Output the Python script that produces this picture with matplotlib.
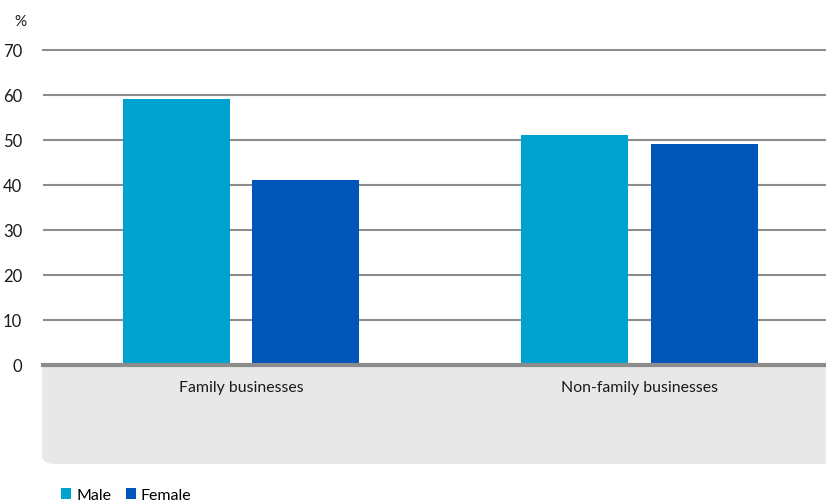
import matplotlib
matplotlib.use("Agg")
import matplotlib.pyplot as plt
from matplotlib.patches import FancyBboxPatch, Patch
import numpy as np

categories = ["Family businesses", "Non-family businesses"]
male = [59, 51]
female = [41, 49]
series_names = ["Male", "Female"]
yticks = [0, 10, 20, 30, 40, 50, 60, 70]

c_male = "#00a3cf"
c_female = "#0056b8"
grid_c = "#8c8c8c"

plt.rcParams['font.family'] = ['Lato', 'DejaVu Sans']

W, H = 826, 502
fig = plt.figure(figsize=(W / 100, H / 100), dpi=100)
ax = fig.add_axes([43 / W, 1 - 365.5 / H, (W - 43) / W, (365.5 - 51) / H])

x = np.arange(len(categories))
bw = 0.2685
off = 0.162
ax.bar(x - off, male, width=bw, color=c_male, zorder=3)
ax.bar(x + off, female, width=bw, color=c_female, zorder=3)

ax.set_xlim(-0.497, 1.468)
ax.set_ylim(0, 70)
ax.set_yticks(yticks)
ax.yaxis.grid(True, color=grid_c, linewidth=1.5, zorder=0)
ax.set_axisbelow(True)
for s in ["top", "right", "left"]:
    ax.spines[s].set_visible(False)
ax.spines["bottom"].set_color(grid_c)
ax.spines["bottom"].set_linewidth(3)
ax.spines["bottom"].set_zorder(4)
ax.tick_params(axis="y", length=0, pad=15, labelsize=12, labelcolor="#1a1a1a")
ax.tick_params(axis="x", length=0, pad=11, labelsize=11.4, labelcolor="#1a1a1a")
ax.set_xticks(x)
ax.set_xticklabels(categories)
for lbl in ax.get_yticklabels():
    lbl.set_clip_on(False)
ax.get_ygridlines()[-1].set_clip_on(False)

fig.text(20 / W, 1 - 22 / H, "%", fontsize=11, ha="center", va="center", color="#1a1a1a")

# grey category band
box = FancyBboxPatch((42 / W, 1 - 465 / H), (W + 40 - 42) / W, (465 - 362) / H,
                     boxstyle="round,pad=0,rounding_size=0.016",
                     transform=fig.transFigure, facecolor="#e8e8e8", edgecolor="none", zorder=-1)
fig.patches.append(box)

handles = [Patch(facecolor=c_male), Patch(facecolor=c_female)]
fig.legend(handles, series_names, loc="center left", bbox_to_anchor=(61 / W, 1 - 496 / H),
           ncol=2, frameon=False, fontsize=11.5, handlelength=0.65, handleheight=0.65,
           handletextpad=0.3, columnspacing=0.9, borderaxespad=0, borderpad=0)

fig.savefig("out.png", dpi=100)
